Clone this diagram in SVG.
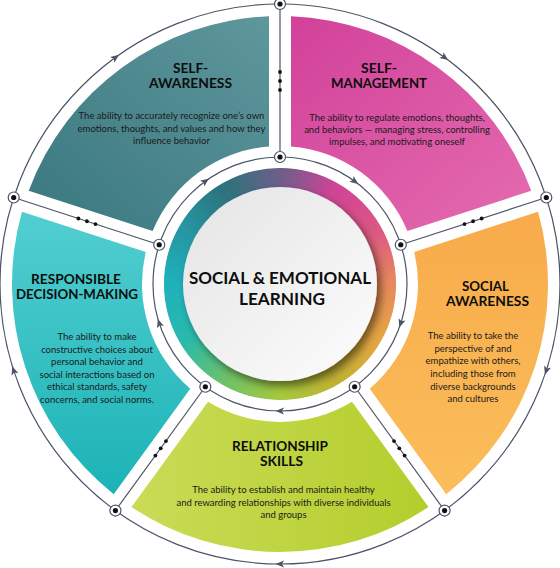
<svg xmlns="http://www.w3.org/2000/svg" width="560" height="568" viewBox="0 0 560 568">
<style>
.t{font-family:Lato,"Open Sans","Liberation Sans",sans-serif;font-weight:700;font-size:13.5px;fill:#0d0d0d;text-anchor:middle}
.b{font-family:Lato,"Open Sans","Liberation Sans",sans-serif;font-size:9.5px;fill:#1a1a1a;text-anchor:middle}
.c{font-family:Lato,"Open Sans","Liberation Sans",sans-serif;font-weight:700;font-size:17px;fill:#0d0d0d;text-anchor:middle}
.ln{fill:none;stroke:#4b5566;stroke-width:1.2}
.nd{fill:#fff;stroke:#4b5566;stroke-width:1.2}
.dt{fill:#111}
.ar{fill:#4b5566}
.rg{fill:none;stroke-width:20}
</style>
<defs>
<linearGradient id="gSA" x1="0" y1="1" x2="1" y2="0"><stop offset="0" stop-color="#3a777f"/><stop offset="1" stop-color="#5e979c"/></linearGradient>
<linearGradient id="gSM" x1="0" y1="0" x2="1" y2="1"><stop offset="0" stop-color="#d2419a"/><stop offset="1" stop-color="#e46caf"/></linearGradient>
<linearGradient id="gSO" x1="0" y1="0" x2="0" y2="1"><stop offset="0" stop-color="#f8ab4a"/><stop offset="1" stop-color="#fbbd5b"/></linearGradient>
<linearGradient id="gRS" x1="0" y1="0" x2="1" y2="0"><stop offset="0" stop-color="#cadb57"/><stop offset="1" stop-color="#b4ce2c"/></linearGradient>
<linearGradient id="gRD" x1="0" y1="0" x2="0" y2="1"><stop offset="0" stop-color="#52ced1"/><stop offset="1" stop-color="#1cb3b6"/></linearGradient>
<linearGradient id="gW" x1="0" y1="0" x2="1" y2="1"><stop offset="0" stop-color="#e4e4e4"/><stop offset="1" stop-color="#fdfdfd"/></linearGradient>
<linearGradient id="r0" gradientUnits="userSpaceOnUse" x1="280" y1="178" x2="333" y2="192.2"><stop offset="0" stop-color="#6e5e8a"/><stop offset="1" stop-color="#cf4496"/></linearGradient>
<linearGradient id="r1" gradientUnits="userSpaceOnUse" x1="333" y1="192.2" x2="371.8" y2="231"><stop offset="0" stop-color="#cf4496"/><stop offset="1" stop-color="#dc5684"/></linearGradient>
<linearGradient id="r2" gradientUnits="userSpaceOnUse" x1="371.8" y1="231" x2="386" y2="284"><stop offset="0" stop-color="#dc5684"/><stop offset="1" stop-color="#e8895c"/></linearGradient>
<linearGradient id="r3" gradientUnits="userSpaceOnUse" x1="386" y1="284" x2="371.8" y2="337"><stop offset="0" stop-color="#e8895c"/><stop offset="1" stop-color="#e6a640"/></linearGradient>
<linearGradient id="r4" gradientUnits="userSpaceOnUse" x1="371.8" y1="337" x2="333" y2="375.8"><stop offset="0" stop-color="#e6a640"/><stop offset="1" stop-color="#c2b232"/></linearGradient>
<linearGradient id="r5" gradientUnits="userSpaceOnUse" x1="333" y1="375.8" x2="280" y2="390"><stop offset="0" stop-color="#c2b232"/><stop offset="1" stop-color="#a6c83e"/></linearGradient>
<linearGradient id="r6" gradientUnits="userSpaceOnUse" x1="280" y1="390" x2="227" y2="375.8"><stop offset="0" stop-color="#a6c83e"/><stop offset="1" stop-color="#6cc26a"/></linearGradient>
<linearGradient id="r7" gradientUnits="userSpaceOnUse" x1="227" y1="375.8" x2="188.2" y2="337"><stop offset="0" stop-color="#6cc26a"/><stop offset="1" stop-color="#28b9ae"/></linearGradient>
<linearGradient id="r8" gradientUnits="userSpaceOnUse" x1="188.2" y1="337" x2="174" y2="284"><stop offset="0" stop-color="#28b9ae"/><stop offset="1" stop-color="#1fb1ba"/></linearGradient>
<linearGradient id="r9" gradientUnits="userSpaceOnUse" x1="174" y1="284" x2="188.2" y2="231"><stop offset="0" stop-color="#1fb1ba"/><stop offset="1" stop-color="#2596a3"/></linearGradient>
<linearGradient id="r10" gradientUnits="userSpaceOnUse" x1="188.2" y1="231" x2="227" y2="192.2"><stop offset="0" stop-color="#2596a3"/><stop offset="1" stop-color="#2c727c"/></linearGradient>
<linearGradient id="r11" gradientUnits="userSpaceOnUse" x1="227" y1="192.2" x2="280" y2="178"><stop offset="0" stop-color="#2c727c"/><stop offset="1" stop-color="#6e5e8a"/></linearGradient>
<filter id="sh" x="-20%" y="-20%" width="150%" height="150%"><feDropShadow dx="4" dy="5" stdDeviation="4" flood-color="#000" flood-opacity="0.5"/></filter>
<path id="arw" d="M4.5 0 L-4 -3.6 L-2 0 L-4 3.6 Z"/>
<g id="nodeMark"><circle r="5.5" class="nd"/><circle r="2.6" class="dt"/></g>
</defs>

<g id="self-awareness">
<path d="M28.73 190.79 A268 268 0 0 1 269 16.23 L269 146.44 A138 138 0 0 0 152.57 231.03 Z" fill="url(#gSA)"/>
<text class="t" x="190.5" y="73.3" textLength="35" lengthAdjust="spacingAndGlyphs">SELF-</text>
<text class="t" x="190.5" y="88.3" textLength="83" lengthAdjust="spacingAndGlyphs">AWARENESS</text>
<text class="b" x="171.5" y="119.3">The ability to accurately recognize one’s own</text>
<text class="b" x="171.5" y="131.7">emotions, thoughts, and values and how they</text>
<text class="b" x="171.5" y="144">influence behavior</text>
</g>

<g id="self-management">
<path d="M291 16.23 A268 268 0 0 1 531.27 190.79 L407.43 231.03 A138 138 0 0 0 291 146.44 Z" fill="url(#gSM)"/>
<text class="t" x="379" y="73.3" textLength="36" lengthAdjust="spacingAndGlyphs">SELF-</text>
<text class="t" x="379" y="88.3" textLength="96" lengthAdjust="spacingAndGlyphs">MANAGEMENT</text>
<text class="b" x="397" y="120.5">The ability to regulate emotions, thoughts,</text>
<text class="b" x="397" y="132.8">and behaviors — managing stress, controlling</text>
<text class="b" x="397" y="145">impulses, and motivating oneself</text>
</g>

<g id="social-awareness">
<path d="M538.07 211.71 A268 268 0 0 1 446.29 494.16 L369.75 388.82 A138 138 0 0 0 414.22 251.96 Z" fill="url(#gSO)"/>
<text class="t" x="485.5" y="291" textLength="47" lengthAdjust="spacingAndGlyphs">SOCIAL</text>
<text class="t" x="487.5" y="306" textLength="83" lengthAdjust="spacingAndGlyphs">AWARENESS</text>
<text class="b" x="473" y="339">The ability to take the</text>
<text class="b" x="473" y="351.7">perspective of and</text>
<text class="b" x="473" y="364.4">empathize with others,</text>
<text class="b" x="473" y="377">including those from</text>
<text class="b" x="473" y="389.7">diverse backgrounds</text>
<text class="b" x="473" y="402.4">and cultures</text>
</g>

<g id="relationship-skills">
<path d="M428.49 507.09 A268 268 0 0 1 131.51 507.09 L208.05 401.75 A138 138 0 0 0 351.95 401.75 Z" fill="url(#gRS)"/>
<text class="t" x="280" y="451" textLength="96" lengthAdjust="spacingAndGlyphs">RELATIONSHIP</text>
<text class="t" x="281.5" y="466" textLength="43" lengthAdjust="spacingAndGlyphs">SKILLS</text>
<text class="b" x="283.5" y="492.7">The ability to establish and maintain healthy</text>
<text class="b" x="283.5" y="505.5">and rewarding relationships with diverse individuals</text>
<text class="b" x="283.5" y="518.3">and groups</text>
</g>

<g id="responsible-decision-making">
<path d="M113.71 494.16 A268 268 0 0 1 21.93 211.71 L145.78 251.96 A138 138 0 0 0 190.25 388.82 Z" fill="url(#gRD)"/>
<text class="t" x="76" y="284" textLength="90" lengthAdjust="spacingAndGlyphs">RESPONSIBLE</text>
<text class="t" x="77" y="299.3" textLength="122" lengthAdjust="spacingAndGlyphs">DECISION-MAKING</text>
<text class="b" x="97" y="340">The ability to make</text>
<text class="b" x="97" y="352.6">constructive choices about</text>
<text class="b" x="97" y="365.2">personal behavior and</text>
<text class="b" x="97" y="377.8">social interactions based on</text>
<text class="b" x="97" y="390.4">ethical standards, safety</text>
<text class="b" x="97" y="403">concerns, and social norms.</text>
</g>

<g id="sel-center">
<circle cx="280" cy="284" r="106" fill="none" stroke="#8a8a70" stroke-width="19"/>
<path class="rg" stroke="url(#r0)" d="M280 178 A106 106 0 0 1 333 192.2"/>
<path class="rg" stroke="url(#r1)" d="M333 192.2 A106 106 0 0 1 371.8 231"/>
<path class="rg" stroke="url(#r2)" d="M371.8 231 A106 106 0 0 1 386 284"/>
<path class="rg" stroke="url(#r3)" d="M386 284 A106 106 0 0 1 371.8 337"/>
<path class="rg" stroke="url(#r4)" d="M371.8 337 A106 106 0 0 1 333 375.8"/>
<path class="rg" stroke="url(#r5)" d="M333 375.8 A106 106 0 0 1 280 390"/>
<path class="rg" stroke="url(#r6)" d="M280 390 A106 106 0 0 1 227 375.8"/>
<path class="rg" stroke="url(#r7)" d="M227 375.8 A106 106 0 0 1 188.2 337"/>
<path class="rg" stroke="url(#r8)" d="M188.2 337 A106 106 0 0 1 174 284"/>
<path class="rg" stroke="url(#r9)" d="M174 284 A106 106 0 0 1 188.2 231"/>
<path class="rg" stroke="url(#r10)" d="M188.2 231 A106 106 0 0 1 227 192.2"/>
<path class="rg" stroke="url(#r11)" d="M227 192.2 A106 106 0 0 1 280 178"/>
<circle cx="280" cy="284" r="97" fill="url(#gW)" filter="url(#sh)"/>
<text class="c" x="280" y="284" textLength="182" lengthAdjust="spacingAndGlyphs">SOCIAL &amp; EMOTIONAL</text>
<text class="c" x="282" y="305" textLength="86" lengthAdjust="spacingAndGlyphs">LEARNING</text>
</g>

<g id="connectors">
<circle class="ln" cx="280" cy="284" r="280"/>
<circle class="ln" cx="280" cy="284" r="127"/>
<line class="ln" x1="280" y1="157" x2="280" y2="4"/>
<line class="ln" x1="400.78" y1="244.75" x2="546.3" y2="197.48"/>
<line class="ln" x1="354.65" y1="386.75" x2="444.58" y2="510.53"/>
<line class="ln" x1="205.35" y1="386.75" x2="115.42" y2="510.53"/>
<line class="ln" x1="159.22" y1="244.75" x2="13.7" y2="197.48"/>
<g class="dt">
<circle cx="280" cy="72" r="1.9"/><circle cx="280" cy="81" r="1.9"/><circle cx="280" cy="90" r="1.9"/>
<circle cx="464.51" cy="224.06" r="1.9"/><circle cx="473.07" cy="221.27" r="1.9"/><circle cx="481.63" cy="218.49" r="1.9"/>
<circle cx="394.03" cy="441.05" r="1.9"/><circle cx="399.32" cy="448.33" r="1.9"/><circle cx="404.61" cy="455.61" r="1.9"/>
<circle cx="165.97" cy="441.05" r="1.9"/><circle cx="160.68" cy="448.33" r="1.9"/><circle cx="155.39" cy="455.61" r="1.9"/>
<circle cx="95.49" cy="224.06" r="1.9"/><circle cx="86.93" cy="221.27" r="1.9"/><circle cx="78.37" cy="218.49" r="1.9"/>
</g>
<use href="#nodeMark" x="280" y="4"/>
<use href="#nodeMark" x="546.3" y="197.48"/>
<use href="#nodeMark" x="444.58" y="510.53"/>
<use href="#nodeMark" x="115.42" y="510.53"/>
<use href="#nodeMark" x="13.7" y="197.48"/>
<use href="#nodeMark" x="280" y="157"/>
<use href="#nodeMark" x="400.78" y="244.75"/>
<use href="#nodeMark" x="354.65" y="386.75"/>
<use href="#nodeMark" x="205.35" y="386.75"/>
<use href="#nodeMark" x="159.22" y="244.75"/>
<g class="ar">
<use href="#arw" transform="translate(115.42 57.47) rotate(-36)"/>
<use href="#arw" transform="translate(444.58 57.47) rotate(36)"/>
<use href="#arw" transform="translate(546.3 370.52) rotate(108)"/>
<use href="#arw" transform="translate(280 564) rotate(180)"/>
<use href="#arw" transform="translate(13.7 370.52) rotate(252)"/>
<use href="#arw" transform="translate(205.35 181.25) rotate(-36)"/>
<use href="#arw" transform="translate(354.65 181.25) rotate(36)"/>
<use href="#arw" transform="translate(400.78 323.25) rotate(108)"/>
<use href="#arw" transform="translate(280 411) rotate(180)"/>
<use href="#arw" transform="translate(159.22 323.25) rotate(252)"/>
</g>
</g>
</svg>
